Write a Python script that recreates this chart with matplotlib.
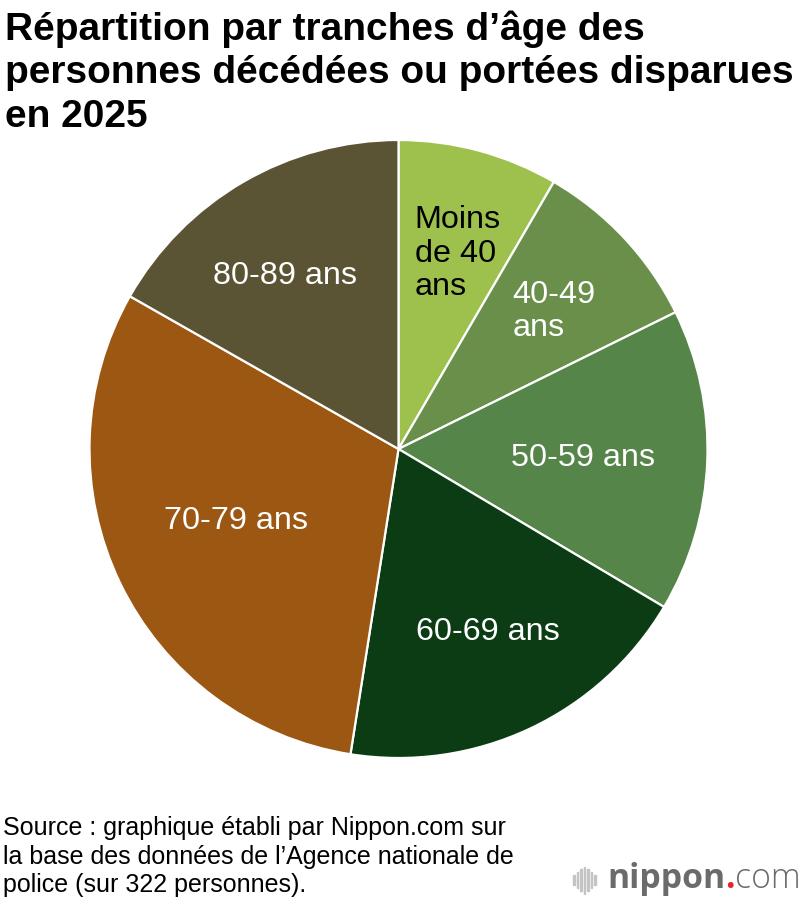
import numpy as np
import matplotlib
matplotlib.use("Agg")
import matplotlib.pyplot as plt
from matplotlib.patches import Rectangle

# ---- data ----
categories = ["Moins\nde 40\nans", "40-49\nans", "50-59 ans", "60-69 ans", "70-79 ans", "80-89 ans"]
values = [27, 30, 51, 61, 99, 54]
colors = ["#9dc14c", "#6a8f4b", "#558548", "#0b3c14", "#9c5713", "#5b5434"]
label_colors = ["black", "white", "white", "white", "white", "white"]

title = "Répartition par tranches d’âge des\npersonnes décédées ou portées disparues\nen 2025"
source = "Source : graphique établi par Nippon.com sur\nla base des données de l’Agence nationale de\npolice (sur 322 personnes)."

plt.rcParams['font.family'] = ['Liberation Sans', 'DejaVu Sans']

W, H = 800, 902
fig = plt.figure(figsize=(W/100, H/100), dpi=100)

cx, cy, r = 398.5, 449, 309
ax = fig.add_axes([(cx - r)/W, (H - cy - r)/H, 2*r/W, 2*r/H])
wedges, _ = ax.pie(values, colors=colors, startangle=90, counterclock=False, radius=1,
                   wedgeprops=dict(edgecolor="white", linewidth=1.6))
ax.set_xlim(-1, 1)
ax.set_ylim(-1, 1)
ax.set_aspect("equal")
ax.axis("off")

label_r = [0.66, 0.672, 0.598, 0.66, 0.575, 0.67]
label_da = [-1.75, -1.5, -0.6, 0.8, -1.8, 3.0]
for w, lab, lc, rr, da in zip(wedges, categories, label_colors, label_r, label_da):
    ang = np.deg2rad((w.theta1 + w.theta2) / 2 + da)
    ax.text(rr*np.cos(ang), rr*np.sin(ang), lab, ha="center", va="center",
            color=lc, fontsize=23.3, multialignment="left", linespacing=1.15)

fig.text(5/W, 1 - 10/H, title, ha="left", va="top", fontsize=28, fontweight="bold",
         linespacing=1.27, color="black")

fig.text(3/W, 1 - 816/H, source, ha="left", va="top", fontsize=18, linespacing=1.24,
         color="black")

# logo
bars_x = [573, 576.5, 580, 583.5, 587, 590.5, 594]
bars_h = [10, 16, 22, 27, 22, 16, 10]
for bx, bh in zip(bars_x, bars_h):
    fig.patches.append(Rectangle((bx/W, (H - 880 - bh/2)/H), 1.6/W, bh/H,
                                 transform=fig.transFigure, color="#c4c4c4", zorder=5))
fs_logo = 24.3
t1 = fig.text(607/W, 1 - 888/H, "nippon", ha="left", va="baseline", fontsize=fs_logo,
              fontweight="bold", color="#6b6b6b", family=["Open Sans", "DejaVu Sans"])
fig.canvas.draw()
bb = t1.get_window_extent()
t2 = fig.text(bb.x1/W, 1 - 888/H, ".", ha="left", va="baseline", fontsize=fs_logo,
              fontweight="bold", color="#e8232a", family=["Open Sans", "DejaVu Sans"])
bb2 = t2.get_window_extent()
fig.text(bb2.x1/W, 1 - 888/H, "com", ha="left", va="baseline", fontsize=fs_logo,
         fontweight="light", color="#6b6b6b", family=["Open Sans", "DejaVu Sans"])

fig.savefig("out.png", dpi=100, facecolor="white")
